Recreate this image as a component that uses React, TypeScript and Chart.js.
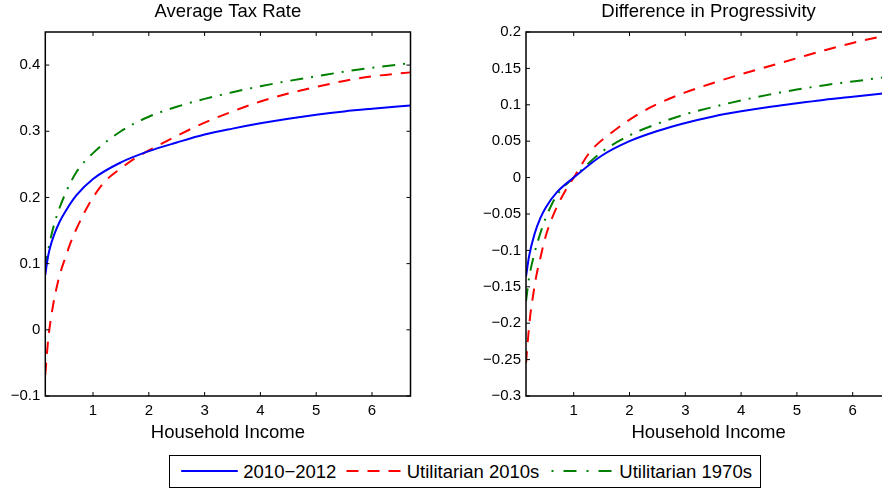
import React, { useEffect, useRef } from 'react';
import { Chart, registerables } from 'chart.js';

Chart.register(...registerables);

const FONT = '"Liberation Sans", Arial, Helvetica, sans-serif';

// ---- series meta ----
const seriesLabels = ['2010\u22122012', 'Utilitarian 2010s', 'Utilitarian 1970s'];
const seriesColors = ['#0000ff', '#ff0000', '#008000'];
const seriesDashes: number[][] = [[], [12, 9], [13, 8, 2, 8]];

// ---- axes ----
const xTitle = 'Household Income';
const xTicks = [1, 2, 3, 4, 5, 6];
const xMin = 0.145;
const xMax = 6.69;

const leftTitle = 'Average Tax Rate';
const leftYTicks = [-0.1, 0, 0.1, 0.2, 0.3, 0.4];
const leftYMin = -0.1;
const leftYMax = 0.45;

const rightTitle = 'Difference in Progressivity';
const rightYTicks = [-0.3, -0.25, -0.2, -0.15, -0.1, -0.05, 0, 0.05, 0.1, 0.15, 0.2];
const rightYMin = -0.3;
const rightYMax = 0.2;

// ---- left panel: average tax rate ----
const atrBlueX = [0.145, 0.18, 0.22, 0.3, 0.4, 0.5, 0.7, 1, 1.5, 2, 2.5, 3, 3.5, 4, 4.5, 5, 5.5, 6, 6.69];
const atrBlueY = [0.083, 0.104, 0.121, 0.143, 0.163, 0.178, 0.203, 0.228, 0.253, 0.27, 0.283, 0.295, 0.304, 0.312, 0.319, 0.325, 0.33, 0.334, 0.339];

const atrRedX = [0.145, 0.17, 0.2, 0.23, 0.27, 0.32, 0.4, 0.5, 0.6, 0.7, 0.85, 1, 1.2, 1.5, 1.75, 2, 2.5, 3, 3.5, 4, 4.5, 5, 5.5, 6, 6.69];
const atrRedY = [-0.068, -0.04, -0.012, 0.008, 0.03, 0.053, 0.082, 0.108, 0.132, 0.152, 0.178, 0.2, 0.223, 0.244, 0.259, 0.271, 0.293, 0.313, 0.33, 0.345, 0.357, 0.367, 0.376, 0.383, 0.389];

const atrGreenX = [0.145, 0.17, 0.22, 0.28, 0.37, 0.5, 0.7, 1, 1.5, 2, 2.5, 3, 3.5, 4, 4.5, 5, 5.5, 6, 6.69];
const atrGreenY = [0.092, 0.107, 0.13, 0.152, 0.177, 0.205, 0.238, 0.267, 0.3, 0.322, 0.337, 0.349, 0.359, 0.368, 0.376, 0.383, 0.39, 0.396, 0.403];

// ---- right panel: difference in progressivity ----
const dpBlueX = [0.145, 0.2, 0.3, 0.4, 0.5, 0.7, 1, 1.5, 2, 2.5, 3, 3.5, 4, 4.5, 5, 5.5, 6, 6.69];
const dpBlueY = [-0.136, -0.108, -0.077, -0.056, -0.041, -0.02, 0, 0.03, 0.05, 0.064, 0.075, 0.084, 0.091, 0.097, 0.102, 0.107, 0.111, 0.117];

const dpRedX = [0.145, 0.18, 0.22, 0.27, 0.33, 0.4, 0.5, 0.6, 0.7, 0.85, 1, 1.3, 1.7, 2.2, 2.5, 3, 3.5, 4, 4.5, 5, 5.5, 6, 6.69];
const dpRedY = [-0.255, -0.222, -0.19, -0.163, -0.135, -0.111, -0.08, -0.058, -0.04, -0.018, 0, 0.036, 0.063, 0.089, 0.101, 0.117, 0.13, 0.142, 0.153, 0.164, 0.175, 0.185, 0.197];

const dpGreenX = [0.145, 0.2, 0.3, 0.4, 0.5, 0.7, 1, 1.5, 2, 2.5, 3, 3.5, 4, 4.5, 5, 5.5, 6, 6.69];
const dpGreenY = [-0.17, -0.138, -0.103, -0.077, -0.055, -0.024, 0, 0.035, 0.058, 0.074, 0.087, 0.097, 0.106, 0.114, 0.121, 0.127, 0.132, 0.139];

const zip = (xs: number[], ys: number[]) => xs.map((x, i) => ({ x, y: ys[i] }));

const fmt = (v: number) => {
  const r = Math.round(v * 1000) / 1000;
  if (r === 0) return '0';
  const s = String(Math.abs(r));
  return r < 0 ? '\u2212' + s : s;
};

function axesPlugin(title: string, yTicks: number[]) {
  return {
    id: 'matlabAxes',
    afterDatasetsDraw(chart: any) {
      const { ctx, chartArea: a, scales } = chart;
      const xs = scales.x;
      const ys = scales.y;
      ctx.save();
      ctx.strokeStyle = '#000';
      ctx.lineWidth = 1;
      const L = 4;
      ctx.beginPath();
      for (const v of xTicks) {
        const px = xs.getPixelForValue(v);
        ctx.moveTo(px, a.bottom);
        ctx.lineTo(px, a.bottom - L);
        ctx.moveTo(px, a.top);
        ctx.lineTo(px, a.top + L);
      }
      for (const v of yTicks) {
        const py = ys.getPixelForValue(v);
        ctx.moveTo(a.left, py);
        ctx.lineTo(a.left + L, py);
        ctx.moveTo(a.right, py);
        ctx.lineTo(a.right - L, py);
      }
      ctx.stroke();
      ctx.lineWidth = 1.5;
      ctx.strokeRect(a.left, a.top, a.right - a.left, a.bottom - a.top);
      ctx.fillStyle = '#000';
      ctx.font = `18.5px ${FONT}`;
      ctx.textAlign = 'center';
      ctx.textBaseline = 'middle';
      ctx.fillText(title, (a.left + a.right) / 2, a.top - 19.7);
      ctx.restore();
    },
  };
}

function makeConfig(
  title: string,
  yMin: number,
  yMax: number,
  yTicks: number[],
  yWidth: number,
  padRight: number,
  series: [number[], number[]][]
): any {
  return {
    type: 'line',
    data: {
      datasets: series.map((s, i) => ({
        label: seriesLabels[i],
        data: zip(s[0], s[1]),
        borderColor: seriesColors[i],
        backgroundColor: seriesColors[i],
        borderWidth: 2,
        borderDash: seriesDashes[i],
        pointRadius: 0,
        cubicInterpolationMode: 'monotone',
        fill: false,
      })),
    },
    options: {
      responsive: false,
      animation: false,
      devicePixelRatio: 1,
      events: [],
      layout: { padding: { left: 0, right: padRight, top: 32, bottom: 0 } },
      plugins: { legend: { display: false }, title: { display: false }, tooltip: { enabled: false } },
      scales: {
        x: {
          type: 'linear',
          min: xMin,
          max: xMax,
          grid: { display: false, drawTicks: false },
          border: { display: false },
          afterBuildTicks: (s: any) => {
            s.ticks = xTicks.map((v) => ({ value: v }));
          },
          afterFit: (s: any) => {
            s.height = 52;
          },
          ticks: {
            autoSkip: false,
            maxRotation: 0,
            padding: 6,
            color: '#000',
            font: { family: FONT, size: 15 },
            callback: (v: any) => fmt(Number(v)),
          },
          title: {
            display: true,
            text: xTitle,
            color: '#000',
            font: { family: FONT, size: 18.5 },
            padding: { top: 0, bottom: 4 },
          },
        },
        y: {
          type: 'linear',
          min: yMin,
          max: yMax,
          grid: { display: false, drawTicks: false },
          border: { display: false },
          afterBuildTicks: (s: any) => {
            s.ticks = yTicks.map((v) => ({ value: v }));
          },
          afterFit: (s: any) => {
            s.width = yWidth;
          },
          ticks: {
            autoSkip: false,
            padding: 5,
            color: '#000',
            font: { family: FONT, size: 15 },
            callback: (v: any) => fmt(Number(v)),
          },
        },
      },
    },
    plugins: [axesPlugin(title, yTicks)],
  };
}

export default function App() {
  const leftRef = useRef<HTMLCanvasElement | null>(null);
  const rightRef = useRef<HTMLCanvasElement | null>(null);

  useEffect(() => {
    const c1 = new Chart(
      leftRef.current as HTMLCanvasElement,
      makeConfig(leftTitle, leftYMin, leftYMax, leftYTicks, 45.3, 30.5, [
        [atrBlueX, atrBlueY],
        [atrRedX, atrRedY],
        [atrGreenX, atrGreenY],
      ])
    );
    const c2 = new Chart(
      rightRef.current as HTMLCanvasElement,
      makeConfig(rightTitle, rightYMin, rightYMax, rightYTicks, 85, 9.8, [
        [dpBlueX, dpBlueY],
        [dpRedX, dpRedY],
        [dpGreenX, dpGreenY],
      ])
    );
    return () => {
      c1.destroy();
      c2.destroy();
    };
  }, []);

  // legend geometry (page coordinates converted to legend-inner coordinates)
  const legLeft = 168.5;
  const inner = legLeft + 1;
  const sampleSpans = [
    [180.7, 237.3],
    [346, 401],
    [551, 614],
  ];
  const textLefts = [243.3, 406.7, 619.3];
  const legendDash = ['', '12 9', '2 10 13 10'];

  return (
    <div
      style={{
        position: 'absolute',
        left: 0,
        top: 0,
        width: 882,
        height: 488,
        overflow: 'hidden',
        background: '#fff',
      }}
    >
      <canvas
        ref={leftRef}
        width={441}
        height={448}
        style={{ position: 'absolute', left: 0, top: 0, width: 441, height: 448 }}
      />
      <canvas
        ref={rightRef}
        width={460}
        height={448}
        style={{ position: 'absolute', left: 441, top: 0, width: 460, height: 448 }}
      />
      <div
        style={{
          position: 'absolute',
          left: legLeft,
          top: 455,
          width: 592,
          height: 33,
          boxSizing: 'border-box',
          border: '1px solid #000',
          background: '#fff',
          fontFamily: FONT,
          fontSize: 18.5,
          color: '#000',
        }}
      >
        <svg style={{ position: 'absolute', left: 0, top: 0 }} width={590} height={31}>
          {sampleSpans.map((s, i) => (
            <line
              key={i}
              x1={s[0] - inner}
              x2={s[1] - inner}
              y1={15}
              y2={15}
              stroke={seriesColors[i]}
              strokeWidth={2}
              strokeDasharray={legendDash[i] || undefined}
            />
          ))}
        </svg>
        {seriesLabels.map((t, i) => (
          <span
            key={t}
            style={{
              position: 'absolute',
              left: textLefts[i] - inner,
              top: 0,
              height: 31,
              lineHeight: '31px',
              whiteSpace: 'nowrap',
            }}
          >
            {t}
          </span>
        ))}
      </div>
    </div>
  );
}
